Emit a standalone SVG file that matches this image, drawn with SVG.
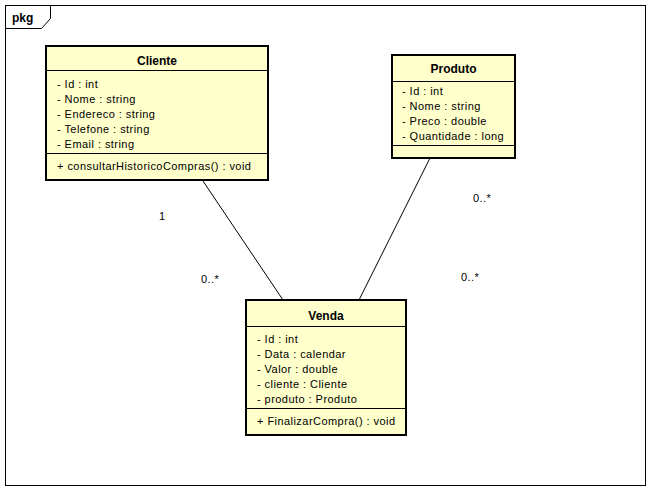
<svg xmlns="http://www.w3.org/2000/svg" width="648" height="492" viewBox="0 0 648 492">
<style>
text{font-family:"Liberation Sans",Arial,sans-serif;font-size:11px;fill:#000;letter-spacing:0.45px}
.t{font-weight:bold;font-size:12px;text-anchor:middle;letter-spacing:0}
.box{fill:#ffffcc;stroke:#000;stroke-width:2}
.sep{stroke:#000;stroke-width:1}
.c{stroke:#000;stroke-width:1;fill:none}
</style>
<rect x="0" y="0" width="648" height="492" fill="#fff"/>
<g id="frame">
<rect x="5.5" y="5.5" width="640" height="480" fill="none" stroke="#000"/>
<path d="M5.5 28.5 H41.5 L50.5 18.5 V5.5" fill="none" stroke="#000"/>
<text x="12" y="22" style="font-weight:bold;font-size:12px;letter-spacing:0">pkg</text>
</g>
<g id="connectors">
<line class="c" x1="203" y1="181" x2="283" y2="300"/>
<line class="c" x1="430" y1="158" x2="359" y2="300"/>
<text x="159" y="220">1</text>
<text x="201" y="283">0..*</text>
<text x="473" y="202">0..*</text>
<text x="461" y="281">0..*</text>
</g>
<g id="Cliente">
<rect class="box" x="46" y="46" width="222" height="134"/>
<line class="sep" x1="46" y1="70.5" x2="268" y2="70.5"/>
<line class="sep" x1="46" y1="153.5" x2="268" y2="153.5"/>
<text class="t" x="157" y="65">Cliente</text>
<text x="57" y="88">- Id : int</text>
<text x="57" y="103">- Nome : string</text>
<text x="57" y="118">- Endereco : string</text>
<text x="57" y="133">- Telefone : string</text>
<text x="57" y="148">- Email : string</text>
<text x="57" y="170">+ consultarHistoricoCompras() : void</text>
</g>
<g id="Produto">
<rect class="box" x="392" y="55" width="123" height="103"/>
<line class="sep" x1="392" y1="81.5" x2="515" y2="81.5"/>
<line class="sep" x1="392" y1="145.5" x2="515" y2="145.5"/>
<text class="t" x="453.5" y="73">Produto</text>
<text x="402" y="95">- Id : int</text>
<text x="402" y="110">- Nome : string</text>
<text x="402" y="125">- Preco : double</text>
<text x="402" y="140">- Quantidade : long</text>
</g>
<g id="Venda">
<rect class="box" x="246" y="300" width="160" height="135"/>
<line class="sep" x1="246" y1="326.5" x2="406" y2="326.5"/>
<line class="sep" x1="246" y1="408.5" x2="406" y2="408.5"/>
<text class="t" x="326" y="320">Venda</text>
<text x="257" y="343">- Id : int</text>
<text x="257" y="358">- Data : calendar</text>
<text x="257" y="373">- Valor : double</text>
<text x="257" y="388">- cliente : Cliente</text>
<text x="257" y="403">- produto : Produto</text>
<text x="257" y="425">+ FinalizarCompra() : void</text>
</g>
</svg>
